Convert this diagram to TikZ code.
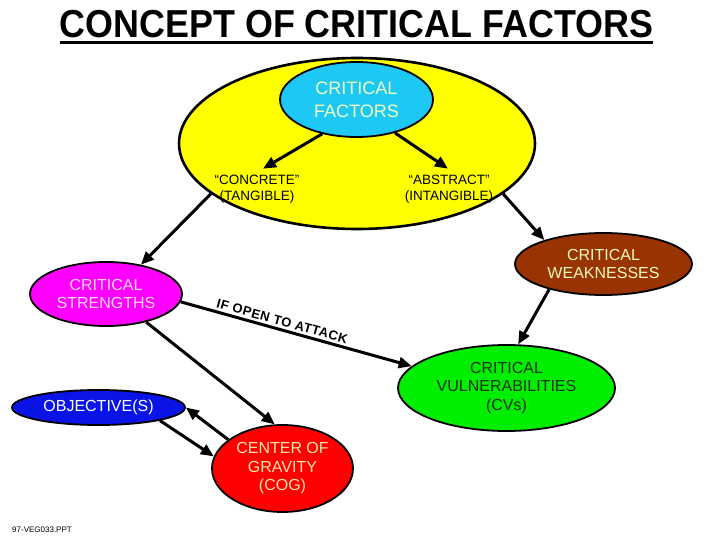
\documentclass[tikz,border=0pt]{standalone}
\usepackage{fontspec}
\setmainfont{Liberation Sans}
\newfontfamily\spacedfont[LetterSpace=4]{Liberation Sans}
\usetikzlibrary{shapes.geometric,arrows.meta}
\definecolor{cfyellow}{RGB}{255,255,0}
\definecolor{cfblue}{RGB}{30,200,245}
\definecolor{cream}{RGB}{240,250,190}
\definecolor{csmagenta}{RGB}{255,0,255}
\definecolor{pinktext}{RGB}{255,215,255}
\definecolor{wkbrown}{RGB}{153,51,0}
\definecolor{cvgreen}{RGB}{0,238,0}
\definecolor{cvtext}{RGB}{25,50,20}
\definecolor{objblue}{RGB}{10,20,230}
\definecolor{cogred}{RGB}{255,0,0}
\definecolor{cogtext}{RGB}{255,230,170}
\begin{document}
\begin{tikzpicture}[x=1pt,y=-1pt,
  oval/.style={ellipse, draw=black, line width=1.8pt, inner sep=0pt, align=center},
  arr/.style={line width=3pt, -{Triangle[length=13pt,width=11pt]}},
  lbl/.style={font=\fontsize{16}{18.5}\selectfont},
  small/.style={align=center, inner sep=4pt, font=\fontsize{13.5}{16}\selectfont}]
\fill[white] (0,0) rectangle (720,540);
\useasboundingbox (0,0) rectangle (720,540);
% title
\node[inner sep=0pt, anchor=base, font=\bfseries\fontsize{39}{39}\selectfont] (title) at (356.5,38) {\scalebox{0.92}[1]{CONCEPT OF CRITICAL FACTORS}};
\draw[line width=2.5pt] ([yshift=-4.5pt]title.base west) -- ([yshift=-4.5pt]title.base east);
% nodes
\node[oval, fill=cfyellow, line width=2.6pt, minimum width=356pt, minimum height=171pt] (cf) at (357,143.5) {};
\node[oval, fill=cfblue, minimum width=153pt, minimum height=75pt, text=cream, font=\fontsize{18}{23}\selectfont] (core) at (356.5,99.5) {CRITICAL\\FACTORS};
\node[small] (conc) at (257,189) {“CONCRETE”\\(TANGIBLE)};
\node[small] (abst) at (449,189) {“ABSTRACT”\\(INTANGIBLE)};
\node[oval, lbl, fill=csmagenta, text=pinktext, minimum width=152pt, minimum height=64pt] (cs) at (106,294) {CRITICAL\\STRENGTHS};
\node[oval, lbl, fill=wkbrown, text=cream, minimum width=177pt, minimum height=62pt] (cw) at (603.5,264) {CRITICAL\\WEAKNESSES};
\node[oval, lbl, fill=cvgreen, text=cvtext, minimum width=217pt, minimum height=86pt] (cv) at (506.5,388) {CRITICAL\\VULNERABILITIES\\(CVs)};
\node[oval, lbl, fill=objblue, text=white, minimum width=173pt, minimum height=35pt] (obj) at (98.5,407.5) {OBJECTIVE(S)};
\node[oval, lbl, fill=cogred, text=cogtext, minimum width=141pt, minimum height=87pt] (cog) at (282.5,468.5) {CENTER OF\\GRAVITY\\(COG)};
\node[inner sep=0pt, font=\fontsize{8}{8}\selectfont] (foot) at (42,530) {97-VEG033.PPT};
% connectors
\draw[arr] (core.225) -- ([xshift=6pt,yshift=2pt]conc.north);
\draw[arr] (core.-41) -- ([xshift=-1pt,yshift=2pt]abst.north);
\draw[arr] (cf.199) -- (cs.40);
\draw[arr] (cf.-19) -- (cw.158);
\draw[arr] (cw.205) -- (cv.75);
\draw[arr] (cs.-6) -- node[sloped, above, pos=0.43, inner sep=2.5pt, font=\spacedfont\bfseries\fontsize{13}{13}\selectfont] (attack) {IF OPEN TO ATTACK} (cv.167);
\draw[arr] (cs.-35) -- (cog.100);
\draw[arr] (cog.152) -- (obj.0);
\draw[arr] (obj.-12) -- (cog.170);
\end{tikzpicture}
\end{document}
